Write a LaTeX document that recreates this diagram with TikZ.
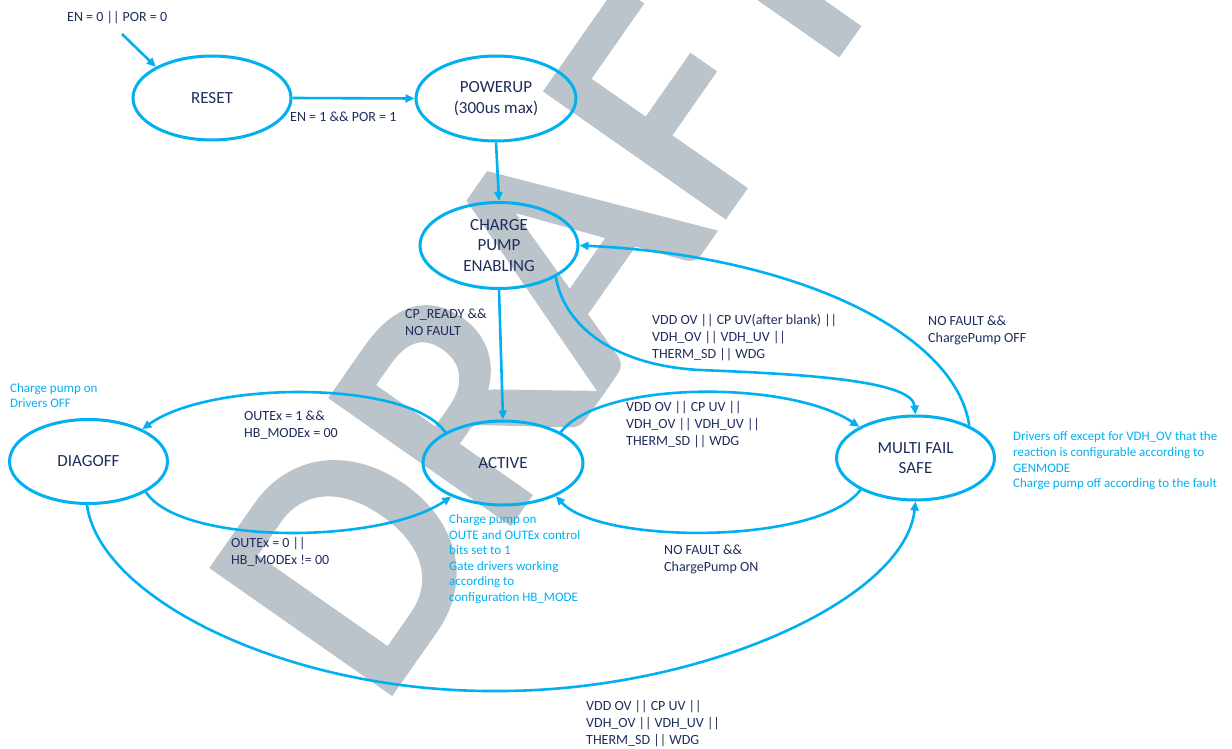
\documentclass[tikz,border=0pt]{standalone}
\usepackage{fontspec}
\setmainfont{Carlito}
\newfontfamily\wmfont[FakeBold=2.5]{Carlito}
\usetikzlibrary{shapes.geometric,arrows.meta}
\definecolor{lnblue}{RGB}{0,176,240}
\definecolor{txtnavy}{RGB}{31,45,92}
\definecolor{wmgray}{RGB}{187,196,202}
\begin{document}
\begin{tikzpicture}[x=1pt,y=-1pt,
  state/.style={ellipse, draw=lnblue, line width=3pt, inner sep=0pt,
    minimum width=158pt, minimum height=84pt, align=center, text=txtnavy,
    font=\fontsize{17}{20.5}\selectfont},
  lbl/.style={anchor=west, inner sep=0pt, align=left, text=txtnavy,
    font=\fontsize{14}{17}\selectfont},
  note/.style={anchor=west, inner sep=0pt, align=left, text=lnblue,
    font=\fontsize{13}{15.6}\selectfont},
  conn/.style={draw=lnblue, line width=2.6pt, -{Triangle[length=9pt,width=8pt]}},
  wmark/.style={anchor=base west, inner sep=0pt, rotate=55, text=wmgray,
    font=\wmfont\fontsize{335}{335}\selectfont},
]
\useasboundingbox (0,0) rectangle (1232,749);
\begin{scope}
\clip (0,0) rectangle (1232,749);
\node[wmark] (wm) at (378,709) {DRAFT};
\end{scope}

% states
\node[state] (reset) at (212,98) {RESET};
\node[state, minimum width=160pt, minimum height=85pt] (powerup) at (496,98.5) {POWERUP\\(300us max)};
\node[state, minimum height=86pt] (charge) at (499,245.5) {CHARGE\\PUMP\\ENABLING};
\node[state, minimum width=160pt] (active) at (503,463) {ACTIVE};
\node[state] (diagoff) at (88.5,461.5) {DIAGOFF};
\node[state] (multi) at (915.5,458) {MULTI FAIL\\SAFE};

% connectors
\coordinate (init) at (122,34);
\draw[conn] (init) -- (reset.151);
\draw[conn] (reset.east) -- (powerup.west);
\draw[conn] (powerup.south) -- (charge.north);
\draw[conn] (charge.south) -- (active.north);
\draw[conn] (active.152) .. controls (410,380) and (210,380) .. (diagoff.31);
\draw[conn] (diagoff.332) .. controls (180,545) and (380,545) .. (active.213);
\draw[conn] (active.28) .. controls (600,380) and (790,380) .. (multi.151);
\draw[conn] (multi.210) .. controls (820,545) and (600,545) .. (active.328);
\coordinate (m1) at (700,370);
\draw[conn] (charge.331) .. controls (565,330) and (620,366) .. (m1)
  .. controls (800,374) and (912,380) .. (multi.north);
\draw[conn] (multi.31) .. controls (955,330) and (790,255) .. (charge.east);
\coordinate (m2) at (495,691);
\draw[conn] (diagoff.268) .. controls (100,600) and (290,692) .. (m2)
  .. controls (700,692) and (905,600) .. (multi.270);

% labels
\node[lbl] (l0) at (67,18) {EN = 0 || POR = 0};
\node[lbl] (l1) at (290,117) {EN = 1 \&\& POR = 1};
\node[lbl] (l2) at (405,322.5) {CP\_READY \&\&\\NO FAULT};
\node[lbl] (l3) at (652,337.5) {VDD OV || CP UV(after blank) ||\\VDH\_OV || VDH\_UV ||\\THERM\_SD || WDG};
\node[lbl] (l4) at (928,330.5) {NO FAULT \&\&\\ChargePump OFF};
\node[lbl] (l5) at (244,425) {OUTEx = 1 \&\&\\HB\_MODEx = 00};
\node[lbl] (l6) at (626,424.5) {VDD OV || CP UV ||\\VDH\_OV || VDH\_UV ||\\THERM\_SD || WDG};
\node[lbl] (l7) at (231,551.5) {OUTEx = 0 ||\\HB\_MODEx != 00};
\node[lbl] (l8) at (664,559.5) {NO FAULT \&\&\\ChargePump ON};
\node[lbl] (l9) at (586,723.5) {VDD OV || CP UV ||\\VDH\_OV || VDH\_UV ||\\THERM\_SD || WDG};

% notes
\node[note] (n1) at (10,395.5) {Charge pump on\\Drivers OFF};
\node[note] (n2) at (449,559) {Charge pump on\\OUTE and OUTEx control\\bits set to 1\\Gate drivers working\\according to\\configuration HB\_MODE};
\node[note] (n3) at (1013,461) {Drivers off except for VDH\_OV that the\\reaction is configurable according to\\GENMODE\\Charge pump off according to the fault};
\end{tikzpicture}
\end{document}
